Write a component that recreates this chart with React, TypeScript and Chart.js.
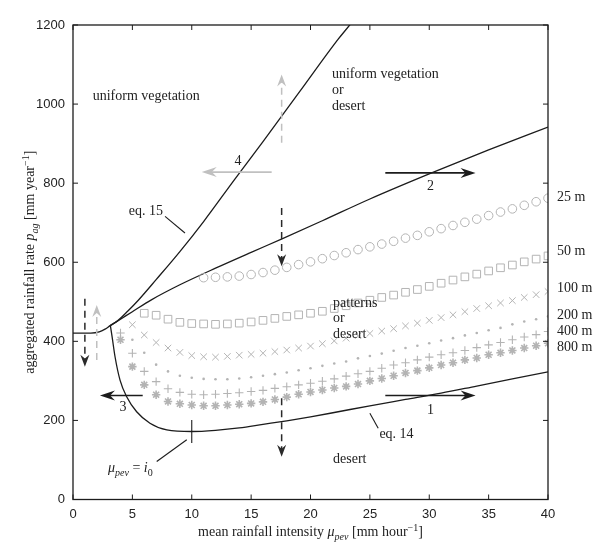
import React, { useEffect, useRef } from 'react';
import { Chart, registerables } from 'chart.js';

Chart.register(...registerables);

// ---------- data (x: mean rainfall intensity [mm/h], y: aggregated rainfall [mm/yr]) ----------
const eq15X = [3.1, 3.8, 4.6, 5.5, 7, 9, 11, 13.6, 16, 19.1, 22.3, 23.3, 24];
const eq15Y = [439, 453, 476, 504, 556, 627, 703, 809, 905, 1032, 1163, 1200, 1228];

const boundaryX = [0, 1.5, 2.2, 2.7, 3.1, 4, 5, 6.6, 9, 12, 15, 17.6, 21, 25, 30.2, 35, 40];
const boundaryY = [421, 421, 424, 431, 439, 456, 475, 505, 543, 585, 625, 659, 705, 760, 826, 884, 942];

const eq14X = [3.15, 3.3, 3.54, 3.96, 4.52, 5.36, 6.48, 7.9, 10, 12, 14, 16, 18, 20, 22, 25, 28, 31, 34, 37, 40];
const eq14Y = [439, 410, 361, 302, 260, 222, 193, 176, 172, 175, 181, 190, 199, 209, 220, 237, 253, 269, 287, 305, 323];

const x25 = [11, 12, 13, 14, 15, 16, 17, 18, 19, 20, 21, 22, 23, 24, 25, 26, 27, 28, 29, 30, 31, 32, 33, 34, 35, 36, 37, 38, 39, 40];
const y25 = [561, 562, 563, 565, 569, 574, 580, 587, 594, 601, 609, 617, 624, 632, 639, 646, 653, 661, 668, 677, 685, 693, 701, 709, 718, 727, 735, 744, 753, 762];

const x50 = [6, 7, 8, 9, 10, 11, 12, 13, 14, 15, 16, 17, 18, 19, 20, 21, 22, 23, 24, 25, 26, 27, 28, 29, 30, 31, 32, 33, 34, 35, 36, 37, 38, 39, 40];
const y50 = [471, 466, 456, 448, 445, 444, 443, 444, 446, 449, 453, 458, 463, 467, 471, 476, 483, 490, 497, 504, 511, 517, 524, 531, 539, 547, 555, 563, 570, 578, 586, 593, 601, 608, 616];

const x100 = [5, 6, 7, 8, 9, 10, 11, 12, 13, 14, 15, 16, 17, 18, 19, 20, 21, 22, 23, 24, 25, 26, 27, 28, 29, 30, 31, 32, 33, 34, 35, 36, 37, 38, 39, 40];
const y100 = [442, 416, 397, 383, 372, 364, 361, 360, 362, 365, 367, 370, 374, 378, 383, 388, 394, 401, 408, 414, 420, 426, 432, 439, 446, 453, 460, 467, 475, 483, 490, 497, 503, 511, 518, 526];

const x200 = [5, 6, 7, 8, 9, 10, 11, 12, 13, 14, 15, 16, 17, 18, 19, 20, 21, 22, 23, 24, 25, 26, 27, 28, 29, 30, 31, 32, 33, 34, 35, 36, 37, 38, 39, 40];
const y200 = [404, 371, 341, 324, 313, 308, 305, 304, 304, 306, 309, 313, 317, 321, 327, 332, 338, 344, 349, 357, 363, 369, 376, 383, 389, 395, 402, 408, 415, 421, 428, 434, 443, 450, 456, 463];

const x400 = [4, 5, 6, 7, 8, 9, 10, 11, 12, 13, 14, 15, 16, 17, 18, 19, 20, 21, 22, 23, 24, 25, 26, 27, 28, 29, 30, 31, 32, 33, 34, 35, 36, 37, 38, 39, 40];
const y400 = [421, 370, 324, 298, 280, 271, 266, 265, 266, 268, 270, 273, 276, 281, 285, 290, 294, 299, 305, 312, 318, 324, 332, 340, 346, 353, 360, 366, 371, 377, 384, 391, 397, 404, 411, 417, 425];

const x800 = [4, 5, 6, 7, 8, 9, 10, 11, 12, 13, 14, 15, 16, 17, 18, 19, 20, 21, 22, 23, 24, 25, 26, 27, 28, 29, 30, 31, 32, 33, 34, 35, 36, 37, 38, 39, 40];
const y800 = [404, 336, 290, 265, 248, 242, 239, 237, 237, 239, 241, 243, 247, 253, 259, 266, 272, 277, 282, 286, 292, 300, 306, 313, 320, 326, 333, 340, 346, 353, 358, 366, 371, 377, 383, 389, 395];

const seriesNames = ['25 m', '50 m', '100 m', '200 m', '400 m', '800 m'];
const seriesNameY = [763, 627, 533, 467, 425, 385];
const seriesNameX = 40.75;

// annotations in data units
const solidArrows = [
  { x0: 26.3, y0: 263, x1: 33.9, y1: 263, grey: false },
  { x0: 26.3, y0: 826, x1: 33.9, y1: 826, grey: false },
  { x0: 5.87, y0: 263, x1: 2.27, y1: 263, grey: false },
  { x0: 16.73, y0: 828, x1: 10.84, y1: 828, grey: true },
];
const dashedArrows = [
  { x0: 17.57, y0: 737, x1: 17.57, y1: 590, grey: false },
  { x0: 17.57, y0: 256, x1: 17.57, y1: 108, grey: false },
  { x0: 17.57, y0: 902, x1: 17.57, y1: 1075, grey: true },
  { x0: 1.0, y0: 508, x1: 1.0, y1: 336, grey: false },
  { x0: 2.0, y0: 353, x1: 2.0, y1: 492, grey: true },
];
const arrowNumbers = [
  { t: '1', x: 30.1, y: 226 },
  { t: '2', x: 30.1, y: 792 },
  { t: '3', x: 4.2, y: 232 },
  { t: '4', x: 13.9, y: 855 },
];
const regionTexts = [
  { lines: ['uniform vegetation'], x: 1.66, y: 1020 },
  { lines: ['uniform vegetation', 'or', 'desert'], x: 21.8, y: 1075 },
  { lines: ['patterns', 'or', 'desert'], x: 21.9, y: 497 },
  { lines: ['desert'], x: 21.9, y: 102 },
];
const eqLabels = [
  { t: 'eq. 15', x: 4.7, y: 730 },
  { t: 'eq. 14', x: 25.8, y: 166 },
];
const pointerLines = [
  { x0: 7.75, y0: 716, x1: 9.43, y1: 674 },
  { x0: 25.0, y0: 218, x1: 25.7, y1: 180 },
  { x0: 7.05, y0: 96, x1: 9.58, y1: 151 },
  { x0: 10, y0: 143, x1: 10, y1: 201 },
];
const muLabel = { x: 2.95, y: 83 };

// ---------- styles ----------
const INK = '#1c1c1c';
const GREY = '#b4b4b4';
const AGREY = '#c0c0c0';
const SERIF = '"Liberation Serif", "DejaVu Serif", serif';
const SANS = '"Liberation Sans", Arial, sans-serif';

type Seg = { t: string; it?: boolean; sub?: boolean; sup?: boolean };

function drawRich(ctx: CanvasRenderingContext2D, segs: Seg[], x: number, y: number, size: number, align: 'left' | 'center') {
  const small = Math.round(size * 0.68);
  const fontOf = (s: Seg) => `${s.it ? 'italic ' : ''}${s.sub || s.sup ? small : size}px ${SERIF}`;
  let w = 0;
  for (const s of segs) {
    ctx.font = fontOf(s);
    w += ctx.measureText(s.t).width;
  }
  let cx = align === 'center' ? x - w / 2 : x;
  ctx.textAlign = 'left';
  ctx.textBaseline = 'alphabetic';
  for (const s of segs) {
    ctx.font = fontOf(s);
    const dy = s.sub ? size * 0.28 : s.sup ? -size * 0.38 : 0;
    ctx.fillText(s.t, cx, y + dy);
    cx += ctx.measureText(s.t).width;
  }
}

function head(ctx: CanvasRenderingContext2D, tx: number, ty: number, ang: number, len: number, half: number, color: string) {
  ctx.save();
  ctx.translate(tx, ty);
  ctx.rotate(ang);
  ctx.beginPath();
  ctx.moveTo(0, 0);
  ctx.lineTo(-len, -half);
  ctx.lineTo(-len * 0.68, 0);
  ctx.lineTo(-len, half);
  ctx.closePath();
  ctx.fillStyle = color;
  ctx.fill();
  ctx.restore();
}

const overlay = {
  id: 'overlay',
  afterDatasetsDraw(chart: any) {
    const { ctx, chartArea: a } = chart;
    const sx = chart.scales.x;
    const sy = chart.scales.y;
    const X = (v: number) => sx.getPixelForValue(v);
    const Y = (v: number) => sy.getPixelForValue(v);
    const line = (x0: number, y0: number, x1: number, y1: number) => {
      ctx.beginPath();
      ctx.moveTo(x0, y0);
      ctx.lineTo(x1, y1);
      ctx.stroke();
    };
    ctx.save();

    // frame + inward ticks
    ctx.strokeStyle = INK;
    ctx.lineWidth = 1.3;
    ctx.strokeRect(a.left, a.top, a.right - a.left, a.bottom - a.top);
    ctx.lineWidth = 1;
    sx.ticks.forEach((t: any) => {
      const p = X(t.value);
      line(p, a.bottom, p, a.bottom - 5);
      line(p, a.top, p, a.top + 5);
    });
    sy.ticks.forEach((t: any) => {
      const p = Y(t.value);
      line(a.left, p, a.left + 5, p);
      line(a.right, p, a.right - 5, p);
    });

    // solid arrows
    for (const ar of solidArrows) {
      const col = ar.grey ? AGREY : INK;
      const x0 = X(ar.x0), y0 = Y(ar.y0), x1 = X(ar.x1), y1 = Y(ar.y1);
      const ang = Math.atan2(y1 - y0, x1 - x0);
      const len = 15;
      ctx.strokeStyle = col;
      ctx.lineWidth = 1.6;
      line(x0, y0, x1 - Math.cos(ang) * len * 0.6, y1 - Math.sin(ang) * len * 0.6);
      head(ctx, x1, y1, ang, len, 5, col);
    }
    // dashed arrows
    for (const ar of dashedArrows) {
      const col = ar.grey ? AGREY : '#2a2a2a';
      const x0 = X(ar.x0), y0 = Y(ar.y0), x1 = X(ar.x1), y1 = Y(ar.y1);
      const ang = Math.atan2(y1 - y0, x1 - x0);
      const len = 12;
      ctx.strokeStyle = col;
      ctx.lineWidth = 1.5;
      ctx.setLineDash([7, 5]);
      line(x0, y0, x1 - Math.cos(ang) * len * 0.6, y1 - Math.sin(ang) * len * 0.6);
      ctx.setLineDash([]);
      head(ctx, x1, y1, ang, len, 4.5, col);
    }
    // pointer lines
    ctx.strokeStyle = INK;
    ctx.lineWidth = 1.1;
    for (const p of pointerLines) line(X(p.x0), Y(p.y0), X(p.x1), Y(p.y1));

    // texts
    ctx.fillStyle = '#222';
    ctx.font = `14px ${SERIF}`;
    ctx.textBaseline = 'middle';
    ctx.textAlign = 'center';
    for (const n of arrowNumbers) ctx.fillText(n.t, X(n.x), Y(n.y));
    ctx.textAlign = 'left';
    for (const r of regionTexts) {
      r.lines.forEach((s, i) => ctx.fillText(s, X(r.x), Y(r.y) + i * 15.8));
    }
    for (const e of eqLabels) ctx.fillText(e.t, X(e.x), Y(e.y));
    seriesNames.forEach((s, i) => ctx.fillText(s, X(seriesNameX), Y(seriesNameY[i])));

    drawRich(
      ctx,
      [{ t: 'μ', it: true }, { t: 'pev', it: true, sub: true }, { t: ' = ' }, { t: 'i', it: true }, { t: '0', sub: true }],
      X(muLabel.x),
      Y(muLabel.y) + 5,
      14,
      'left'
    );

    // axis titles
    drawRich(
      ctx,
      [{ t: 'mean rainfall intensity ' }, { t: 'μ', it: true }, { t: 'pev', it: true, sub: true }, { t: ' [mm hour' }, { t: '−1', sup: true }, { t: ']' }],
      (a.left + a.right) / 2,
      536,
      14,
      'center'
    );
    ctx.save();
    ctx.translate(29, (a.top + a.bottom) / 2);
    ctx.rotate(-Math.PI / 2);
    drawRich(
      ctx,
      [{ t: 'aggregated rainfall rate ' }, { t: 'p', it: true }, { t: 'ag', it: true, sub: true }, { t: ' [mm year' }, { t: '−1', sup: true }, { t: ']' }],
      0,
      5,
      14,
      'center'
    );
    ctx.restore();

    ctx.restore();
  },
};

const pts = (xs: number[], ys: number[]) => xs.map((x, i) => ({ x, y: ys[i] }));

export default function App() {
  const ref = useRef<HTMLCanvasElement | null>(null);
  useEffect(() => {
    document.body.style.margin = '0';
    if (!ref.current) return;
    const curve = (xs: number[], ys: number[]) => ({
      data: pts(xs, ys),
      showLine: true,
      borderColor: INK,
      borderWidth: 1.3,
      pointRadius: 0,
      cubicInterpolationMode: 'monotone' as const,
      fill: false,
    });
    const marks = (xs: number[], ys: number[], style: string, r: number, bw: number, filled = false) => ({
      data: pts(xs, ys),
      showLine: false,
      pointStyle: style,
      pointRadius: r,
      borderColor: GREY,
      backgroundColor: filled ? GREY : 'rgba(0,0,0,0)',
      pointBorderWidth: bw,
      borderWidth: bw,
    });
    const chart = new Chart(ref.current, {
      type: 'scatter',
      data: {
        datasets: [
          marks(x25, y25, 'circle', 4.3, 1),
          marks(x50, y50, 'rect', 5.4, 1),
          marks(x100, y100, 'crossRot', 4.6, 1),
          marks(x200, y200, 'circle', 1.3, 0, true),
          marks(x400, y400, 'cross', 4.2, 1.1),
          marks(x800, y800, 'star', 4.2, 1.6),
          curve(eq15X, eq15Y),
          curve(boundaryX, boundaryY),
          curve(eq14X, eq14Y),
        ] as any,
      },
      options: {
        responsive: false,
        animation: false,
        events: [],
        layout: { padding: { top: 25, right: 52, left: 0, bottom: 0 } },
        plugins: { legend: { display: false }, tooltip: { enabled: false } },
        scales: {
          x: {
            type: 'linear',
            min: 0,
            max: 40,
            ticks: { stepSize: 5, font: { family: SANS, size: 13 }, color: '#222', padding: 7, maxRotation: 0, callback: (v: any) => String(v) },
            grid: { display: false, drawTicks: false },
            border: { display: false },
            afterFit: (s: any) => {
              s.height = 42.5;
            },
          },
          y: {
            type: 'linear',
            min: 0,
            max: 1200,
            ticks: { stepSize: 200, font: { family: SANS, size: 13 }, color: '#222', padding: 8, callback: (v: any) => String(v) },
            grid: { display: false, drawTicks: false },
            border: { display: false },
            afterFit: (s: any) => {
              s.width = 73;
            },
          },
        },
      } as any,
      plugins: [overlay],
    });
    return () => chart.destroy();
  }, []);
  return (
    <div style={{ width: 600, height: 542, position: 'relative' }}>
      <canvas ref={ref} width={600} height={542} style={{ display: 'block' }} />
    </div>
  );
}
